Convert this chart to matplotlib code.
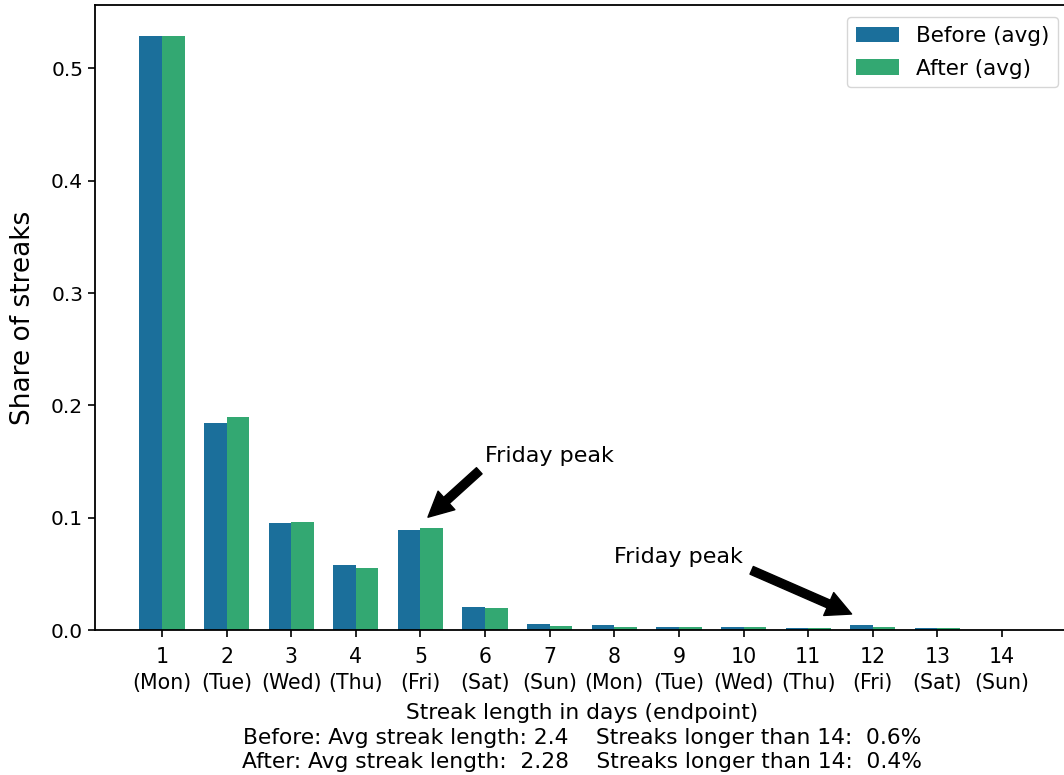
import matplotlib
matplotlib.use("Agg")
import matplotlib.pyplot as plt
import numpy as np

lengths = list(range(1, 15))
days = ["Mon", "Tue", "Wed", "Thu", "Fri", "Sat", "Sun",
        "Mon", "Tue", "Wed", "Thu", "Fri", "Sat", "Sun"]
before = [0.529, 0.184, 0.095, 0.058, 0.089, 0.0205, 0.005,
          0.0045, 0.003, 0.003, 0.0015, 0.0045, 0.0015, 0.0]
after = [0.529, 0.1895, 0.096, 0.055, 0.0905, 0.0195, 0.004,
         0.003, 0.003, 0.003, 0.0015, 0.003, 0.0015, 0.0]
tick_labels = [f"{n}\n({d})" for n, d in zip(lengths, days)]
xlabel_text = ("Streak length in days (endpoint)\n"
               "Before: Avg streak length: 2.4    Streaks longer than 14:  0.6%\n"
               "After: Avg streak length:  2.28    Streaks longer than 14:  0.4%")

c_before = "#1b6f9b"
c_after = "#33a872"

fig = plt.figure(figsize=(10.64, 7.75), dpi=100)
ax = fig.add_axes([95 / 1064, 1 - 630 / 775, (1069 - 95) / 1064, (630 - 5) / 775])

x = np.array(lengths, dtype=float)
w = 0.35
ax.bar(x - w / 2, before, width=w, color=c_before, label="Before (avg)")
ax.bar(x + w / 2, after, width=w, color=c_after, label="After (avg)")

ax.set_xticks(x)
ax.set_xticklabels(tick_labels, fontsize=14.8, linespacing=1.4)
ax.tick_params(axis="y", labelsize=14.5)
ax.tick_params(length=5, width=1.2)
ax.tick_params(axis="x", pad=7)
ax.set_yticks([0.0, 0.1, 0.2, 0.3, 0.4, 0.5])
ax.set_xlim(-0.035, 15.035)
ax.set_ylim(0, 0.5565)
ax.set_ylabel("Share of streaks", fontsize=19, labelpad=11)
ax.set_xlabel(xlabel_text, fontsize=15.7, linespacing=1.3, labelpad=7)
for s in ax.spines.values():
    s.set_linewidth(1.3)

ax.legend(loc="upper right", fontsize=15.5, borderaxespad=0, labelspacing=0.6,
          bbox_to_anchor=(1058 / 1064, 1 - 17 / 775),
          bbox_transform=fig.transFigure)

ap = dict(facecolor="black", shrink=0.05, width=6, headwidth=18, headlength=18)
ax.annotate("Friday peak", xy=(5.07, 0.098), xytext=(6.0, 0.15),
            fontsize=16, arrowprops=ap)
ax.annotate("Friday peak", xy=(11.76, 0.012), xytext=(8.0, 0.06),
            fontsize=16, arrowprops=ap)

fig.savefig("out.png", dpi=100)
